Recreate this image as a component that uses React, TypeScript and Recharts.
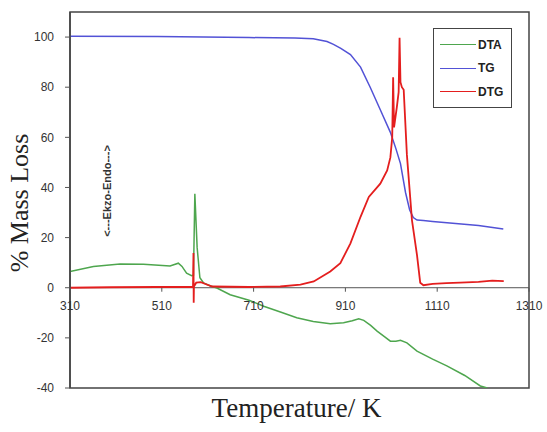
import { LineChart, Line, XAxis, YAxis, ReferenceLine, ReferenceArea, Legend } from "recharts";

const W = 547;
const H = 432;
const TOP = 12;
const X_AXIS_H = 44;
const Y_MIN = -40;
const Y_MAX = 110;
// distance from the plot bottom (-40) up to the zero line
const ZERO_SHIFT = ((H - TOP - X_AXIS_H) * (0 - Y_MIN)) / (Y_MAX - Y_MIN);

const xTicks = [310, 510, 710, 910, 1110, 1310];
const yTicks = [-40, -20, 0, 20, 40, 60, 80, 100];
const seriesOrder = ["DTA", "TG", "DTG"];

const dtaTemp = [310, 361, 419, 470, 528, 546, 554, 564, 575, 579, 582, 587, 593, 601, 615, 630, 659, 700, 732, 770, 804, 840, 877, 906, 925, 939, 950, 965, 979, 995, 1008, 1020, 1030, 1044, 1066, 1100, 1131, 1170, 1204, 1219];
const dtaVal = [6.5, 8.5, 9.5, 9.4, 8.7, 9.8, 8.5, 5.8, 4.8, 5, 37.5, 16, 4, 1.9, 0.8, -0.1, -2.8, -5, -7.4, -9.8, -12, -13.5, -14.4, -14, -13.2, -12.4, -13, -15, -17.3, -19.5, -21.3, -21.3, -21, -22, -25.3, -28.5, -31.2, -35, -39.2, -40];

const tgTemp = [310, 500, 600, 700, 800, 840, 870, 884, 900, 921, 943, 964, 986, 1008, 1020, 1030, 1041, 1050, 1058, 1066, 1080, 1100, 1150, 1200, 1254];
const tgVal = [100.3, 100.2, 100, 99.8, 99.6, 99.3, 98.2, 97.1, 95.5, 93, 88, 80, 71, 62, 55.5, 49.5, 38, 31, 28, 27, 26.8, 26.4, 25.6, 24.8, 23.4];

const dtgTemp = [310, 400, 500, 570, 578, 579, 579.5, 580, 585, 595, 605, 620, 700, 768, 812, 841, 877, 899, 921, 943, 961, 986, 1001, 1008, 1012, 1014, 1016, 1022, 1026, 1028, 1030, 1033, 1037, 1044, 1055, 1066, 1073, 1080, 1100, 1130, 1160, 1200, 1230, 1255];
const dtgVal = [0, 0.2, 0.3, 0.3, 0.3, 13.9, -6, 0.5, 2, 2.2, 1.5, 0.5, 0.3, 0.5, 1.2, 2.5, 6.5, 9.8, 17.7, 28.3, 36.2, 41.5, 46.8, 52, 60, 84, 64, 72, 78, 99.7, 82, 80, 79, 53, 27, 13, 2, 1, 1.5, 1.8, 2, 2.3, 2.8, 2.6];

const toRows = (ts: number[], vs: number[]) => ts.map((t, i) => ({ t, v: vs[i] }));

const dta = toRows(dtaTemp, dtaVal);
const tg = toRows(tgTemp, tgVal);
const dtg = toRows(dtgTemp, dtgVal);

const TICK_FONT = { fontFamily: "Liberation Sans, Arial, sans-serif", fontSize: 12, fill: "#333" };

const XTick = (props: any) => {
  const { x, y, payload } = props;
  const zy = y - ZERO_SHIFT;
  return (
    <g>
      <line x1={x} x2={x} y1={zy} y2={zy + 4} stroke="#555" />
      <text x={x} y={zy + 22} textAnchor="middle" {...TICK_FONT}>
        {payload.value}
      </text>
    </g>
  );
};

const LegendBox = (props: any) => {
  const items = [...props.payload].sort((a: any, b: any) => seriesOrder.indexOf(a.value) - seriesOrder.indexOf(b.value));
  return (
    <div style={{ border: "1.5px solid #444", background: "#fff", width: 79, padding: "4px 0 3px 6px", boxSizing: "border-box" }}>
      {items.map((p: any) => (
        <div key={p.value} style={{ display: "flex", alignItems: "center", height: 23.5 }}>
          <span style={{ display: "inline-block", width: 36, height: 0, borderTop: `1.5px solid ${p.color}`, marginRight: 2 }} />
          <span style={{ fontFamily: "Liberation Sans, Arial, sans-serif", fontSize: 12, fontWeight: 600, color: "#222" }}>{p.value}</span>
        </div>
      ))}
    </div>
  );
};

export default function App() {
  return (
    <div style={{ position: "absolute", left: 0, top: 0, width: W, height: H, background: "#fff" }}>
      <LineChart width={W} height={H} margin={{ top: TOP, right: 18, bottom: 0, left: 0 }}>
        <XAxis
          dataKey="t"
          type="number"
          domain={[310, 1310]}
          ticks={xTicks}
          height={X_AXIS_H}
          axisLine={false}
          tickLine={false}
          tickSize={0}
          tickMargin={0}
          tick={<XTick />}
          allowDataOverflow
          label={{
            content: (p: any) => (
              <text
                x={p.viewBox.x + p.viewBox.width / 2 - 3}
                y={p.viewBox.y + 29}
                textAnchor="middle"
                fontFamily="Liberation Serif, Times New Roman, serif"
                fontSize={27}
                fill="#222"
              >
                Temperature/ K
              </text>
            ),
          }}
        />
        <YAxis
          type="number"
          domain={[Y_MIN, Y_MAX]}
          ticks={yTicks}
          width={70}
          allowDataOverflow
          tick={TICK_FONT}
          tickSize={5}
          tickMargin={11}
          axisLine={{ stroke: "#444", strokeWidth: 1.5 }}
          tickLine={{ stroke: "#555" }}
          label={{
            content: (p: any) => {
              const cx = 19;
              const cy = p.viewBox.y + p.viewBox.height / 2 + 3;
              return (
                <text
                  x={cx}
                  y={cy}
                  transform={`rotate(-90 ${cx} ${cy})`}
                  textAnchor="middle"
                  dominantBaseline="central"
                  fontFamily="Liberation Serif, Times New Roman, serif"
                  fontSize={26}
                  fill="#222"
                >
                  % Mass Loss
                </text>
              );
            },
          }}
        />
        <ReferenceArea x1={310} x2={1310} y1={Y_MIN} y2={Y_MAX} fill="none" stroke="#444" strokeWidth={1.5} />
        <ReferenceLine y={0} stroke="#555" />
        <Line data={dta} dataKey="v" name="DTA" stroke="#4ea64e" strokeWidth={1.5} dot={false} isAnimationActive={false} />
        <Line data={tg} dataKey="v" name="TG" stroke="#5252d6" strokeWidth={1.5} dot={false} isAnimationActive={false} />
        <Line data={dtg} dataKey="v" name="DTG" stroke="#e41e1e" strokeWidth={1.8} dot={false} isAnimationActive={false} />
        <Legend
          layout="vertical"
          verticalAlign="middle"
          align="center"
          content={<LegendBox />}
          wrapperStyle={{ position: "absolute", left: 433, top: 28, width: 80 }}
        />
      </LineChart>
      <div
        style={{
          position: "absolute",
          left: 107,
          top: 191,
          transform: "translate(-50%, -50%) rotate(-90deg)",
          whiteSpace: "nowrap",
          fontFamily: "Liberation Sans, Arial, sans-serif",
          fontSize: 11,
          fontWeight: 600,
          color: "#333",
        }}
      >
        {"<---Ekzo-Endo--->"}
      </div>
    </div>
  );
}
